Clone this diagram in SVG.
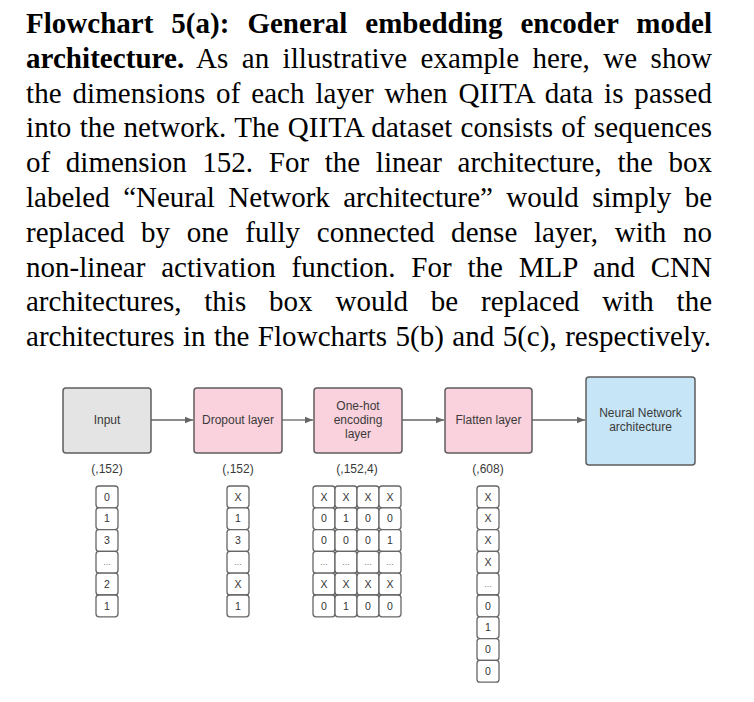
<svg xmlns="http://www.w3.org/2000/svg" width="754" height="702" viewBox="0 0 754 702">
<defs>
<style>
.para{font-family:"Liberation Serif","Times New Roman",serif;font-size:29px;fill:#000}
.b{font-weight:bold}
.box{stroke:#5e5e5e;stroke-width:1.5}
.grey{fill:#e4e4e4}
.pink{fill:#fad2dd}
.blue{fill:#c6e5f6}
.lbl{font-family:"Liberation Sans",Arial,sans-serif;font-size:12px;fill:#3a3a3a;text-anchor:middle}
.cell{fill:#fff;stroke:#666;stroke-width:1.3}
.ct{font-family:"Liberation Sans",Arial,sans-serif;font-size:10.5px;fill:#333;text-anchor:middle}
.dots{font-family:"Liberation Sans",Arial,sans-serif;font-size:9px;fill:#777;text-anchor:middle}
.conn{stroke:#666;stroke-width:1.3;fill:none}
</style>
<marker id="ah" viewBox="0 0 10 10" refX="10" refY="5" markerWidth="8" markerHeight="8" markerUnits="userSpaceOnUse" orient="auto">
<path d="M0,1 L10,5 L0,9 Z" fill="#666"/>
</marker>
</defs>
<rect width="754" height="702" fill="#fff"/>
<g id="caption">
<text class="para b" x="26" y="33" word-spacing="10.7" textLength="686" lengthAdjust="spacing">Flowchart 5(a): General embedding encoder model</text>
<text class="para" x="26" y="67.8" word-spacing="6.1" textLength="686" lengthAdjust="spacing"><tspan class="b">architecture.</tspan> As an illustrative example here, we show</text>
<text class="para" x="26" y="102.6" word-spacing="3.5" textLength="686" lengthAdjust="spacing">the dimensions of each layer when QIITA data is passed</text>
<text class="para" x="26" y="137.4" word-spacing="0.9" textLength="686" lengthAdjust="spacing">into the network. The QIITA dataset consists of sequences</text>
<text class="para" x="26" y="172.2" word-spacing="8.4" textLength="686" lengthAdjust="spacing">of dimension 152. For the linear architecture, the box</text>
<text class="para" x="26" y="207" word-spacing="6.15" textLength="686" lengthAdjust="spacing">labeled “Neural Network architecture” would simply be</text>
<text class="para" x="26" y="241.8" word-spacing="9.3" textLength="686" lengthAdjust="spacing">replaced by one fully connected dense layer, with no</text>
<text class="para" x="26" y="276.6" word-spacing="8.5" textLength="686" lengthAdjust="spacing">non-linear activation function. For the MLP and CNN</text>
<text class="para" x="26" y="311.4" word-spacing="15.6" textLength="686" lengthAdjust="spacing">architectures, this box would be replaced with the</text>
<text class="para" x="26" y="346.2" word-spacing="1.1" textLength="685" lengthAdjust="spacing">architectures in the Flowcharts 5(b) and 5(c), respectively.</text>
</g>
<g id="connectors">
<line class="conn" x1="151" y1="420" x2="193" y2="420" marker-end="url(#ah)"/>
<line class="conn" x1="282" y1="420" x2="313" y2="420" marker-end="url(#ah)"/>
<line class="conn" x1="402" y1="420" x2="444" y2="420" marker-end="url(#ah)"/>
<line class="conn" x1="532" y1="420" x2="585" y2="420" marker-end="url(#ah)"/>
</g>
<g id="input">
<rect class="box grey" x="63" y="388" width="88" height="65" rx="3"/>
<text class="lbl" x="107" y="424">Input</text>
<text class="lbl" x="107" y="473">(,152)</text>
</g>
<g id="dropout">
<rect class="box pink" x="194" y="388" width="88" height="65" rx="3"/>
<text class="lbl" x="238" y="424">Dropout layer</text>
<text class="lbl" x="238" y="473">(,152)</text>
</g>
<g id="onehot">
<rect class="box pink" x="314" y="388" width="88" height="65" rx="3"/>
<text class="lbl" x="358" y="410">One-hot</text>
<text class="lbl" x="358" y="424">encoding</text>
<text class="lbl" x="358" y="438">layer</text>
<text class="lbl" x="357" y="473">(,152,4)</text>
</g>
<g id="flatten">
<rect class="box pink" x="445" y="388" width="87" height="65" rx="3"/>
<text class="lbl" x="488.5" y="424">Flatten layer</text>
<text class="lbl" x="488" y="473">(,608)</text>
</g>
<g id="nn">
<rect class="box blue" x="586" y="377" width="109" height="88" rx="3"/>
<text class="lbl" x="640.5" y="417">Neural Network</text>
<text class="lbl" x="640.5" y="431">architecture</text>
</g>
<g id="input-cells">
<rect class="cell" x="96" y="486" width="22" height="21.8" rx="3"/><text class="ct" x="107" y="500.6">0</text>
<rect class="cell" x="96" y="507.8" width="22" height="21.8" rx="3"/><text class="ct" x="107" y="522.4">1</text>
<rect class="cell" x="96" y="529.6" width="22" height="21.8" rx="3"/><text class="ct" x="107" y="544.2">3</text>
<rect class="cell" x="96" y="551.4" width="22" height="21.8" rx="3"/><text class="dots" x="107" y="565">...</text>
<rect class="cell" x="96" y="573.2" width="22" height="21.8" rx="3"/><text class="ct" x="107" y="587.8">2</text>
<rect class="cell" x="96" y="595" width="22" height="21.8" rx="3"/><text class="ct" x="107" y="609.6">1</text>
</g>
<g id="dropout-cells">
<rect class="cell" x="227" y="486" width="22" height="21.8" rx="3"/><text class="ct" x="238" y="500.6">X</text>
<rect class="cell" x="227" y="507.8" width="22" height="21.8" rx="3"/><text class="ct" x="238" y="522.4">1</text>
<rect class="cell" x="227" y="529.6" width="22" height="21.8" rx="3"/><text class="ct" x="238" y="544.2">3</text>
<rect class="cell" x="227" y="551.4" width="22" height="21.8" rx="3"/><text class="dots" x="238" y="565">...</text>
<rect class="cell" x="227" y="573.2" width="22" height="21.8" rx="3"/><text class="ct" x="238" y="587.8">X</text>
<rect class="cell" x="227" y="595" width="22" height="21.8" rx="3"/><text class="ct" x="238" y="609.6">1</text>
</g>
<g id="onehot-cells">
<rect class="cell" x="313" y="486" width="22" height="21.8" rx="3"/><text class="ct" x="324" y="500.6">X</text>
<rect class="cell" x="335" y="486" width="22" height="21.8" rx="3"/><text class="ct" x="346" y="500.6">X</text>
<rect class="cell" x="357" y="486" width="22" height="21.8" rx="3"/><text class="ct" x="368" y="500.6">X</text>
<rect class="cell" x="379" y="486" width="22" height="21.8" rx="3"/><text class="ct" x="390" y="500.6">X</text>
<rect class="cell" x="313" y="507.8" width="22" height="21.8" rx="3"/><text class="ct" x="324" y="522.4">0</text>
<rect class="cell" x="335" y="507.8" width="22" height="21.8" rx="3"/><text class="ct" x="346" y="522.4">1</text>
<rect class="cell" x="357" y="507.8" width="22" height="21.8" rx="3"/><text class="ct" x="368" y="522.4">0</text>
<rect class="cell" x="379" y="507.8" width="22" height="21.8" rx="3"/><text class="ct" x="390" y="522.4">0</text>
<rect class="cell" x="313" y="529.6" width="22" height="21.8" rx="3"/><text class="ct" x="324" y="544.2">0</text>
<rect class="cell" x="335" y="529.6" width="22" height="21.8" rx="3"/><text class="ct" x="346" y="544.2">0</text>
<rect class="cell" x="357" y="529.6" width="22" height="21.8" rx="3"/><text class="ct" x="368" y="544.2">0</text>
<rect class="cell" x="379" y="529.6" width="22" height="21.8" rx="3"/><text class="ct" x="390" y="544.2">1</text>
<rect class="cell" x="313" y="551.4" width="22" height="21.8" rx="3"/><text class="dots" x="324" y="565">...</text>
<rect class="cell" x="335" y="551.4" width="22" height="21.8" rx="3"/><text class="dots" x="346" y="565">...</text>
<rect class="cell" x="357" y="551.4" width="22" height="21.8" rx="3"/><text class="dots" x="368" y="565">...</text>
<rect class="cell" x="379" y="551.4" width="22" height="21.8" rx="3"/><text class="dots" x="390" y="565">...</text>
<rect class="cell" x="313" y="573.2" width="22" height="21.8" rx="3"/><text class="ct" x="324" y="587.8">X</text>
<rect class="cell" x="335" y="573.2" width="22" height="21.8" rx="3"/><text class="ct" x="346" y="587.8">X</text>
<rect class="cell" x="357" y="573.2" width="22" height="21.8" rx="3"/><text class="ct" x="368" y="587.8">X</text>
<rect class="cell" x="379" y="573.2" width="22" height="21.8" rx="3"/><text class="ct" x="390" y="587.8">X</text>
<rect class="cell" x="313" y="595" width="22" height="21.8" rx="3"/><text class="ct" x="324" y="609.6">0</text>
<rect class="cell" x="335" y="595" width="22" height="21.8" rx="3"/><text class="ct" x="346" y="609.6">1</text>
<rect class="cell" x="357" y="595" width="22" height="21.8" rx="3"/><text class="ct" x="368" y="609.6">0</text>
<rect class="cell" x="379" y="595" width="22" height="21.8" rx="3"/><text class="ct" x="390" y="609.6">0</text>
</g>
<g id="flatten-cells">
<rect class="cell" x="477" y="486" width="22" height="21.8" rx="3"/><text class="ct" x="488" y="500.6">X</text>
<rect class="cell" x="477" y="507.8" width="22" height="21.8" rx="3"/><text class="ct" x="488" y="522.4">X</text>
<rect class="cell" x="477" y="529.6" width="22" height="21.8" rx="3"/><text class="ct" x="488" y="544.2">X</text>
<rect class="cell" x="477" y="551.4" width="22" height="21.8" rx="3"/><text class="ct" x="488" y="566">X</text>
<rect class="cell" x="477" y="573.2" width="22" height="21.8" rx="3"/><text class="dots" x="488" y="586.8">...</text>
<rect class="cell" x="477" y="595" width="22" height="21.8" rx="3"/><text class="ct" x="488" y="609.6">0</text>
<rect class="cell" x="477" y="616.8" width="22" height="21.8" rx="3"/><text class="ct" x="488" y="631.4">1</text>
<rect class="cell" x="477" y="638.6" width="22" height="21.8" rx="3"/><text class="ct" x="488" y="653.2">0</text>
<rect class="cell" x="477" y="660.4" width="22" height="21.8" rx="3"/><text class="ct" x="488" y="675">0</text>
</g>
</svg>
